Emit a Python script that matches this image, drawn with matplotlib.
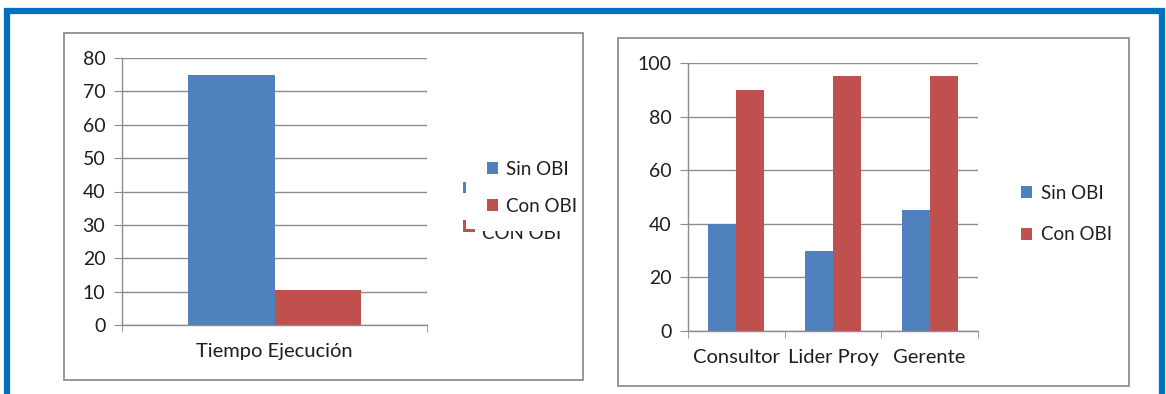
import matplotlib.pyplot as plt
from matplotlib.patches import Rectangle
from matplotlib.transforms import Bbox

# Data
series = ["Sin OBI", "Con OBI"]
left_categories = ["Tiempo Ejecución"]
left_sin = [75]
left_con = [10.5]
right_categories = ["Consultor", "Lider Proy", "Gerente"]
right_sin = [40, 30, 45]
right_con = [90, 95, 95]

# Style
BLUE = "#4F81BD"
RED = "#C0504D"
GRID = "#8C8C8C"
FRAME = "#0070C0"
TEXT = "#1E1E1E"
W, H = 1166, 394

plt.rcParams['font.family'] = ['Lato', 'DejaVu Sans']
plt.rcParams['font.size'] = 14

fig = plt.figure(figsize=(W / 100, H / 100), dpi=100)


def px_rect(x0, y0, x1, y1):
    """pixel box (top-left origin) -> figure fraction [l, b, w, h]"""
    return [x0 / W, 1 - y1 / H, (x1 - x0) / W, (y1 - y0) / H]


def add_box(x0, y0, x1, y1, color, lw):
    l, b, w, h = px_rect(x0, y0, x1, y1)
    fig.patches.append(Rectangle((l, b), w, h, transform=fig.transFigure,
                                 fill=False, edgecolor=color, linewidth=lw))


# outer blue frame (bottom cut off) and the two panel borders
add_box(7, 11, 1162, 420, FRAME, 4.5)
add_box(64, 33, 583, 380, "#8F8F8F", 1.3)
add_box(618, 38, 1129, 386, "#8F8F8F", 1.3)


def style_axes(ax, ncat, ymax, step):
    ax.set_xlim(-0.5, ncat - 0.5)
    ax.set_ylim(0, ymax)
    ax.set_yticks(range(0, ymax + 1, step))
    ax.yaxis.grid(True, color=GRID, linewidth=1.0)
    ax.set_axisbelow(True)
    for s in ("top", "right"):
        ax.spines[s].set_visible(False)
    for s in ("left", "bottom"):
        ax.spines[s].set_color(GRID)
        ax.spines[s].set_linewidth(1.0)
    ax.set_xticks([i - 0.5 for i in range(ncat + 1)], minor=True)
    ax.tick_params(axis="x", which="major", length=0, pad=13, labelsize=14.5, colors=TEXT)
    ax.tick_params(axis="x", which="minor", length=5, color=GRID, direction="out")
    ax.tick_params(axis="y", length=6, color=GRID, pad=6, labelsize=14, colors=TEXT)


# left chart
ax1 = fig.add_axes(px_rect(122, 58, 427, 325))
bw = 0.285
x = range(len(left_categories))
b1 = ax1.bar([i - bw / 2 for i in x], left_sin, bw, color=BLUE, label=series[0])
b2 = ax1.bar([i + bw / 2 for i in x], left_con, bw, color=RED, label=series[1])
ax1.set_xticks(list(x))
ax1.set_xticklabels(left_categories)
style_axes(ax1, len(left_categories), 80, 10)
leg1 = ax1.legend(handles=[b1, b2], loc="upper left", bbox_to_anchor=(470 / W, 1 - 144 / H),
                  bbox_transform=fig.transFigure, frameon=False, handlelength=0.6,
                  handleheight=0.6, handletextpad=0.4, labelspacing=1.05, fontsize=13.5)
for t in leg1.get_texts():
    t.set_color(TEXT)

# leftover rendering ghost of an older legend
for (x0, y0, x1, y1, c) in [(463, 182, 466, 193, BLUE), (463, 220, 466, 232, RED),
                            (463, 229, 475, 232, RED)]:
    l, b, w, h = px_rect(x0, y0, x1, y1)
    fig.patches.append(Rectangle((l, b), w, h, transform=fig.transFigure,
                                 color=c, linewidth=0))
ghost = fig.text(482 / W, 1 - 239 / H, "CON OBI", fontsize=13.5, color=TEXT,
                 va="baseline")
ghost.set_clip_box(Bbox.from_extents(0, 0, W, H - 231))
ghost.set_clip_on(True)

# right chart
ax2 = fig.add_axes(px_rect(688, 63, 978, 331))
bw = 0.29
x = range(len(right_categories))
c1 = ax2.bar([i - bw / 2 for i in x], right_sin, bw, color=BLUE, label=series[0])
c2 = ax2.bar([i + bw / 2 for i in x], right_con, bw, color=RED, label=series[1])
ax2.set_xticks(list(x))
ax2.set_xticklabels(right_categories)
style_axes(ax2, len(right_categories), 100, 20)
leg2 = ax2.legend(handles=[c1, c2], loc="upper left", bbox_to_anchor=(1004 / W, 1 - 168 / H),
                  bbox_transform=fig.transFigure, frameon=False, handlelength=0.6,
                  handleheight=0.6, handletextpad=0.45, labelspacing=1.3, fontsize=13.5)
for t in leg2.get_texts():
    t.set_color(TEXT)

fig.savefig("out.png", dpi=100)
